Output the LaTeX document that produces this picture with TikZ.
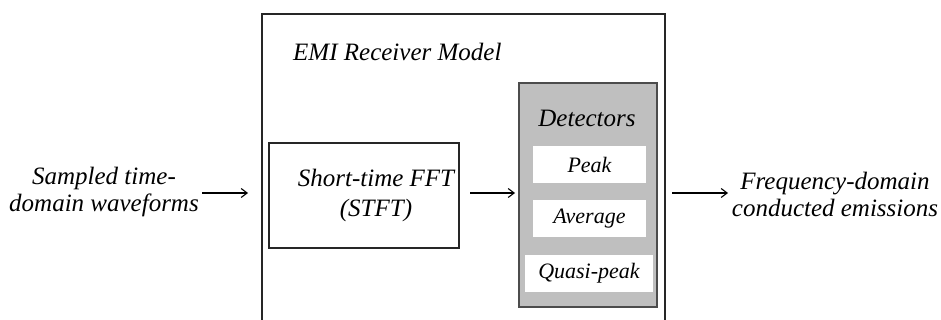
\documentclass[tikz,border=0pt]{standalone}
\usepackage{fontspec}
\setmainfont{Liberation Serif}
\newfontfamily\tnr{Liberation Serif}
\usetikzlibrary{arrows.meta}
\begin{document}
\begin{tikzpicture}[x=1pt,y=-1pt,
  lbl/.style={font=\tnr\fontsize{25}{27}\selectfont\itshape, align=center, inner sep=0},
  blk/.style={draw=black!85, line width=1.1pt},
  sub/.style={fill=white, draw=none, inner sep=0, font=\tnr\fontsize{22}{26}\selectfont\itshape},
  conn/.style={-{Straight Barb[length=6pt,width=9pt]}, line width=1.1pt}]
\useasboundingbox (0,0) rectangle (941,320);
\clip (0,0) rectangle (941,320);
% outer receiver frame (open at the bottom)
\draw[blk] (262,330) -- (262,14) -- (665,14) -- (665,330);
\node[lbl, anchor=west] (title) at (293,52) {EMI Receiver Model};
% STFT block
\draw[blk] (269,143) rectangle (459,248);
\node[lbl, font=\tnr\fontsize{25}{30}\selectfont\itshape] (stft) at (376,195) {Short-time FFT\\(STFT)};
\coordinate (stftE) at (459,193);
% detectors block
\draw[draw=black!70, fill=black!25, line width=1.1pt] (519,83) rectangle (657,307);
\coordinate (detW) at (519,193);
\coordinate (detE) at (665,193);
\node[lbl] (dtitle) at (587,118) {Detectors};
\fill[white] (533,146) rectangle (646,183);
\node[sub] (peak) at (589.5,164.5) {Peak};
\fill[white] (533,200) rectangle (646,237);
\node[sub] (avg) at (589.5,218.5) {Average};
\fill[white] (525,255) rectangle (653,292);
\node[sub] (qp) at (589,273.5) {Quasi-peak};
% input and output texts
\node[lbl] (inp) at (104,192) {Sampled time-\\domain waveforms};
\node[lbl] (out) at (835,194) {Frequency-domain\\conducted emissions};
\coordinate (inE) at (202,193);
\coordinate (frameW) at (248,193);
\coordinate (outE) at (728,193);
% connectors
\draw[conn] (inE) -- (frameW);
\draw[conn] ([xshift=11pt]stftE) -- ([xshift=-4pt]detW);
\draw[conn] ([xshift=7pt]detE) -- (outE);
\end{tikzpicture}
\end{document}
